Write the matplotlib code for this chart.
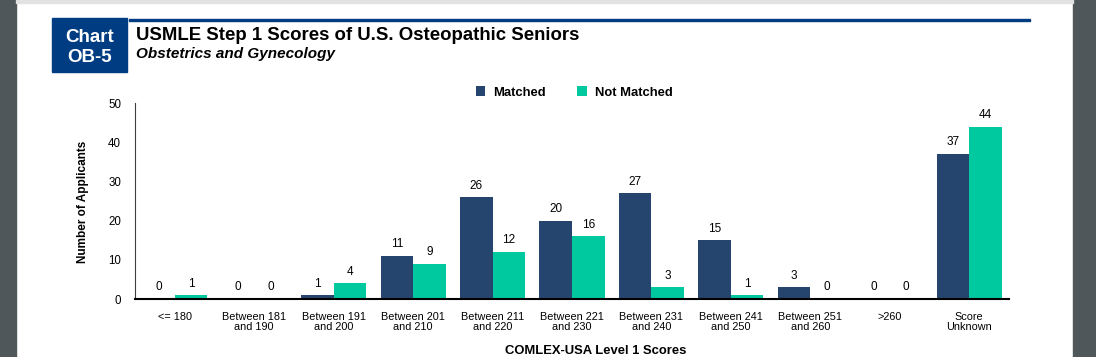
import matplotlib.pyplot as plt
import matplotlib.patches as mpatches
import numpy as np

plt.rcParams['font.family'] = ['Liberation Sans', 'DejaVu Sans']

categories = ["<= 180", "Between 181\nand 190", "Between 191\nand 200", "Between 201\nand 210",
              "Between 211\nand 220", "Between 221\nand 230", "Between 231\nand 240",
              "Between 241\nand 250", "Between 251\nand 260", ">260", "Score\nUnknown"]
matched = [0, 0, 1, 11, 26, 20, 27, 15, 3, 0, 37]
not_matched = [1, 0, 4, 9, 12, 16, 3, 1, 0, 0, 44]

c_match = '#26456e'
c_not = '#00c9a0'
c_head = '#003c82'

fig = plt.figure(figsize=(10.96, 3.57), dpi=100)
W, H = 1096, 357

# page frame: gray strips on the sides, faint shadow on top
fig.patches.append(mpatches.Rectangle((0, 0), 16 / W, 1, transform=fig.transFigure, color='#50575a', zorder=0))
fig.patches.append(mpatches.Rectangle((1073 / W, 0), 23 / W, 1, transform=fig.transFigure, color='#50575a', zorder=0))
fig.patches.append(mpatches.Rectangle((16 / W, 1 - 3 / H), 1057 / W, 3 / H, transform=fig.transFigure, color='#e2e2e2', zorder=0))

# header box and rule
fig.patches.append(mpatches.Rectangle((52 / W, 1 - 72 / H), 75 / W, 54 / H, transform=fig.transFigure, color=c_head))
fig.patches.append(mpatches.Rectangle((129 / W, 1 - 21 / H), 901 / W, 2.5 / H, transform=fig.transFigure, color=c_head))
fig.text(89.5 / W, 1 - 37 / H, "Chart", color='white', fontsize=13.5, fontweight='bold',
         ha='center', va='center')
fig.text(89.5 / W, 1 - 58 / H, "OB-5", color='white', fontsize=13.5, fontweight='bold',
         ha='center', va='center')
fig.text(136 / W, 1 - 35 / H, "USMLE Step 1 Scores of U.S. Osteopathic Seniors", fontsize=13.4,
         fontweight='bold', ha='left', va='center')
fig.text(136 / W, 1 - 54 / H, "Obstetrics and Gynecology", fontsize=11, fontweight='bold',
         style='italic', ha='left', va='center')

ax = fig.add_axes([135 / W, 1 - 299 / H, 874 / W, (299 - 103) / H])
x = np.arange(len(categories))
w = 0.41
b1 = ax.bar(x - w / 2, matched, w, color=c_match, label='Matched')
b2 = ax.bar(x + w / 2, not_matched, w, color=c_not, label='Not Matched')
for bars, vals in ((b1, matched), (b2, not_matched)):
    for r, v in zip(bars, vals):
        ax.annotate(str(v), (r.get_x() + r.get_width() / 2, v), xytext=(0, 4),
                    textcoords='offset points', ha='center', va='bottom', fontsize=8.5)

ax.set_xlim(-0.5, len(categories) - 0.5)
ax.set_ylim(0, 50)
ax.set_yticks([0, 10, 20, 30, 40, 50])
ax.set_xticks(x)
ax.set_xticklabels(categories, linespacing=1.0)
ax.tick_params(axis='both', length=0)
ax.tick_params(axis='x', pad=9, labelsize=7.8)
ax.tick_params(axis='y', pad=10, labelsize=8.3)
for s in ('top', 'right'):
    ax.spines[s].set_visible(False)
ax.spines['bottom'].set_linewidth(1.5)
ax.spines['left'].set_color('#404040')
ax.spines['left'].set_linewidth(0.8)

fig.text(83 / W, 1 - 201.5 / H, "Number of Applicants", fontsize=8.5, fontweight='bold',
         rotation=90, ha='center', va='center')
fig.text(596 / W, 1 - 351 / H, "COMLEX-USA Level 1 Scores", fontsize=9.4, fontweight='bold',
         ha='center', va='center')

ax.legend(loc='center', bbox_to_anchor=(574 / W, 1 - 92.5 / H), bbox_transform=fig.transFigure,
          ncol=2, frameon=False, prop={'weight': 'bold', 'size': 9.4},
          handlelength=0.75, handleheight=0.75, columnspacing=2.4, handletextpad=0.6)

fig.savefig('out.png', dpi=100)
